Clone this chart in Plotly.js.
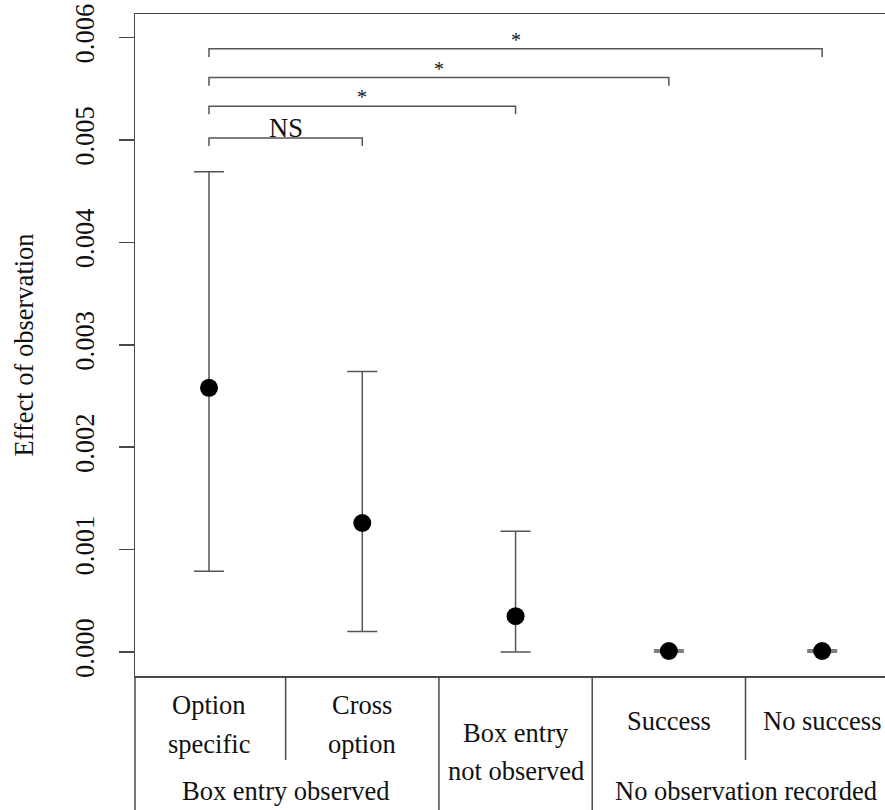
<!DOCTYPE html>
<html>
<head>
<meta charset="utf-8">
<script src="https://cdn.plot.ly/plotly-3.0.1.min.js"></script>
<style>html,body{margin:0;padding:0;background:#fff;}</style>
</head>
<body>
<div id="chart" style="width:885px;height:810px;"></div>
<script>
// ---- data ----
const categories = ["Option specific", "Cross option", "Box entry not observed", "Success", "No success"];
const estimate = [0.00258, 0.00126, 0.00035, 0.00001, 0.00001];
const upper    = [0.00469, 0.00274, 0.00118, 0.00002, 0.00002];
const lower    = [0.00079, 0.00020, 0.00000, 0.00000, 0.00000];

const labelLines = [["Option", "specific"], ["Cross", "option"], ["Box entry", "not observed"], ["Success"], ["No success"]];
const groupNames = ["Box entry observed", "Box entry not observed", "No observation recorded"];
const groupMembers = [[1, 2], [3], [4, 5]];

const compareFrom = [1, 1, 1, 1];
const compareTo = [2, 3, 4, 5];
const compareLabel = ["NS", "*", "*", "*"];
const compareLevel = [0.00502, 0.00533, 0.00561, 0.00589];

const yTicks = [0, 0.001, 0.002, 0.003, 0.004, 0.005, 0.006];

// ---- build ----
const xs = categories.map((c, i) => i + 1);
const FONT = "'Liberation Serif', 'Times New Roman', serif";
const FS = 26.5;
const LINE = "#4a4a4a";
const traces = [];

// brackets
const leg = 0.00008;
compareFrom.forEach((a, k) => {
  const b = compareTo[k], lv = compareLevel[k];
  traces.push({
    x: [a, a, b, b], y: [lv - leg, lv, lv, lv - leg],
    mode: "lines", line: {color: "#555", width: 1.5},
    hoverinfo: "skip", showlegend: false
  });
});

traces.push({
  x: xs, y: estimate, text: categories,
  mode: "markers", type: "scatter",
  marker: {color: "#000", size: 18},
  error_y: {
    type: "data", symmetric: false,
    array: upper.map((u, i) => u - estimate[i]),
    arrayminus: estimate.map((e, i) => e - lower[i]),
    color: "#555", thickness: 1.5, width: 15
  },
  showlegend: false
});

const pY = py => (676 - py) / 662; // pixel row -> paper coordinate

const annotations = [];
compareFrom.forEach((a, k) => {
  const b = compareTo[k];
  const isNS = compareLabel[k] === "NS";
  annotations.push({
    x: (a + b) / 2, y: compareLevel[k], xref: "x", yref: "y",
    text: compareLabel[k], showarrow: false,
    yanchor: "bottom", yshift: isNS ? -7 : -4,
    font: {family: FONT, size: isNS ? FS : 20, color: "#111"}
  });
});

// category labels below the axis
labelLines.forEach((lines, i) => {
  let rows;
  if (lines.length === 1) rows = [721];
  else if (i === 2) rows = [733, 771];
  else rows = [705, 744];
  lines.forEach((t, j) => {
    annotations.push({
      x: i + 1, y: pY(rows[j]), xref: "x", yref: "paper",
      text: t, showarrow: false, yanchor: "middle",
      font: {family: FONT, size: FS, color: "#111"}
    });
  });
});
groupNames.forEach((g, k) => {
  const m = groupMembers[k];
  if (m.length < 2) return; // single-member group label shown in its column
  const cx = (m[0] + m[m.length - 1]) / 2;
  annotations.push({
    x: cx, y: pY(791), xref: "x", yref: "paper",
    text: g, showarrow: false, yanchor: "middle", borderpad: 0,
    font: {family: FONT, size: FS, color: "#111"}
  });
});

// separator lines in the label table
const shapes = [];
shapes.push({type: "line", xref: "paper", yref: "paper", x0: 0, x1: 0, y0: 0, y1: pY(810), line: {color: LINE, width: 1.5}});
for (let k = 1; k < categories.length; k++) {
  const xpos = k + 0.5;
  const sameGroup = groupMembers.some(m => m.includes(k) && m.includes(k + 1));
  shapes.push({
    type: "line", xref: "x", yref: "paper", x0: xpos, x1: xpos,
    y0: 0, y1: sameGroup ? pY(760) : pY(810),
    line: {color: LINE, width: 1.5}
  });
}

const layout = {
  width: 885, height: 810,
  margin: {l: 135, r: 0, t: 14, b: 134},
  paper_bgcolor: "#fff", plot_bgcolor: "#fff",
  font: {family: FONT, size: FS, color: "#111"},
  showlegend: false,
  xaxis: {
    range: [0.5173, 5.41], showticklabels: false, ticks: "",
    showgrid: false, zeroline: false,
    showline: true, mirror: true, linecolor: LINE, linewidth: 1.5
  },
  yaxis: {
    range: [-0.000234, 0.00623],
    tickvals: yTicks, ticktext: yTicks.map(v => v.toFixed(3)),
    tickangle: -90, ticks: "outside", ticklen: 15, tickwidth: 1.5, tickcolor: LINE,
    tickfont: {family: FONT, size: FS, color: "#111"},
    ticklabelstandoff: 14,
    showgrid: false, zeroline: false,
    showline: true, mirror: false, linecolor: LINE, linewidth: 1.5,
    title: {text: "Effect of observation", standoff: 28, font: {family: FONT, size: FS, color: "#111"}}
  },
  annotations: annotations,
  shapes: shapes
};

Plotly.newPlot("chart", traces, layout, {displayModeBar: false, staticPlot: true});
</script>
</body>
</html>
